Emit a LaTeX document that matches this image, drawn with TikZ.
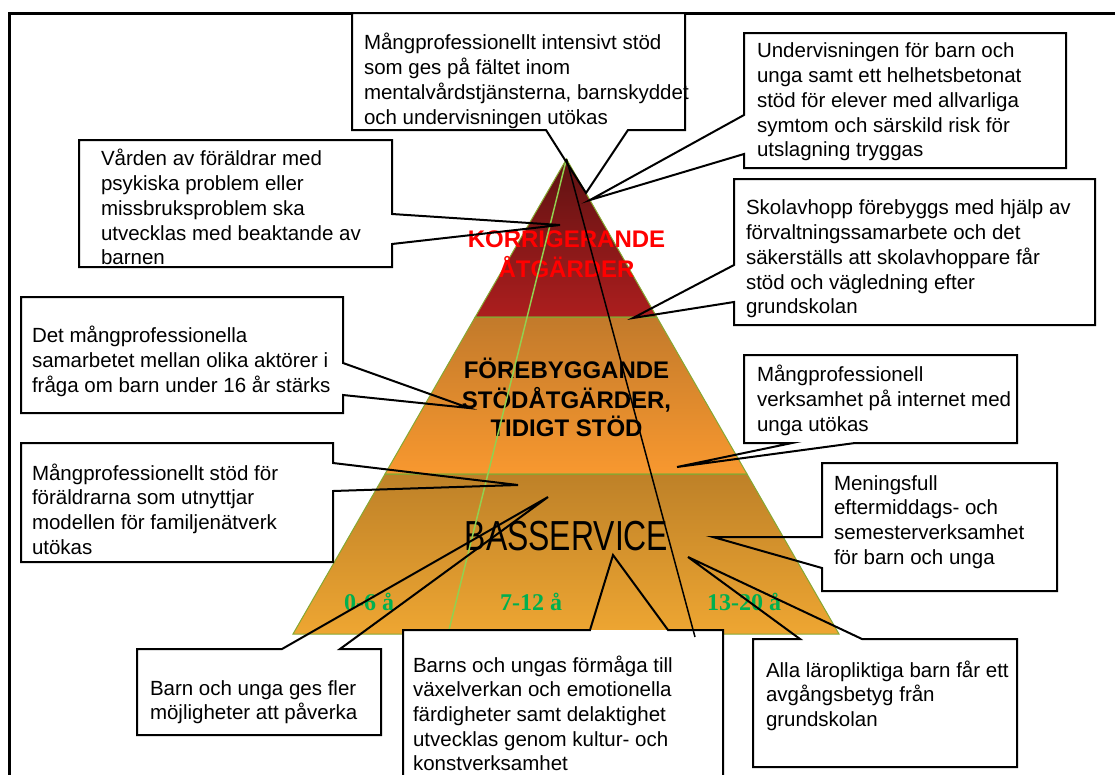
\documentclass[tikz,border=0pt]{standalone}
\usepackage{fontspec}
\setmainfont{Liberation Sans}
\newfontfamily\agefont{Liberation Serif}
\definecolor{redtop}{HTML}{5E1212}
\definecolor{redbot}{HTML}{AC1E1E}
\definecolor{midtop}{HTML}{C27A2B}
\definecolor{midbot}{HTML}{F8982F}
\definecolor{bottop}{HTML}{BE8128}
\definecolor{botbot}{HTML}{EEA632}
\definecolor{bandedge}{HTML}{86A832}
\definecolor{lgreen}{HTML}{92D050}
\definecolor{agegreen}{HTML}{00B050}
\definecolor{kred}{HTML}{FF0000}
\begin{document}
\begin{tikzpicture}[x=1pt,y=-1pt,
  cbox/.style={fill=white, draw=none, inner sep=0pt, outer sep=0pt, anchor=north west},
  cl/.style={draw=black, line width=2pt},
  btxt/.style={anchor=north west, inner sep=0pt, outer sep=0pt, align=left, font=\fontsize{20.5}{24.7}\selectfont},
  bandline/.style={draw=bandedge, line width=1pt},
  lvl/.style={anchor=north, inner sep=0pt, align=center, font=\bfseries\fontsize{24}{28}\selectfont},
  age/.style={anchor=base, inner sep=0pt, text=agegreen, font=\agefont\bfseries\fontsize{24}{24}\selectfont}]
\useasboundingbox (0,0) rectangle (1115,774);
\fill[white] (0,0) rectangle (1115,774);
% frame
\draw[line width=3pt] (9.5,800) -- (9.5,13) -- (1130,13);
% pyramid
\coordinate (apex) at (566.5,159);
\coordinate (l1) at (475.2,317); \coordinate (r1) at (656.8,317);
\coordinate (l2) at (385,474); \coordinate (r2) at (747,474);
\coordinate (l3) at (293,634); \coordinate (r3) at (839,634);
\shade[top color=redtop, bottom color=redbot] (apex) -- (r1) -- (l1) -- cycle;
\shade[top color=midtop, bottom color=midbot] (l1) -- (r1) -- (r2) -- (l2) -- cycle;
\shade[top color=bottop, bottom color=botbot] (l2) -- (r2) -- (r3) -- (l3) -- cycle;
\draw[bandline] (apex) -- (r1) -- (l1) -- cycle;
\draw[bandline] (l1) -- (r1) -- (r2) -- (l2) -- cycle;
\draw[bandline] (l2) -- (r2) -- (r3) -- (l3) -- cycle;
% level labels
\node[lvl, text=kred] (korr) at (566.5,227.4) {\strut KORRIGERANDE\\ÅTGÄRDER};
\node[lvl] (fore) at (566.5,357.4) {\strut FÖREBYGGANDE\\STÖDÅTGÄRDER,\\TIDIGT STÖD};
\node[anchor=base, inner sep=0pt] (bas) at (566.5,550) {\scalebox{0.76}[1]{\fontsize{42}{42}\selectfont BASSERVICE}};
\node[age] (a1) at (369,610) {0-6 å};
\node[age] (a2) at (531,610) {7-12 å};
\node[age] (a3) at (744,610) {13-20 å};
% green line
\coordinate (gend) at (448,634);
\draw[lgreen, line width=1.5pt] (apex) -- (gend);
% box fills
\node[cbox, minimum width=333pt, minimum height=117pt] (bA) at (352,13) {};
\node[cbox, minimum width=322pt, minimum height=135pt] (bB) at (744,33) {};
\node[cbox, minimum width=313pt, minimum height=127pt] (bV) at (79,140) {};
\node[cbox, minimum width=361pt, minimum height=146pt] (bS) at (734,179) {};
\node[cbox, minimum width=322pt, minimum height=116pt] (bD) at (21,297) {};
\node[cbox, minimum width=273pt, minimum height=88pt] (bM) at (744,355) {};
\node[cbox, minimum width=312pt, minimum height=119pt] (bP) at (21,443) {};
\node[cbox, minimum width=235pt, minimum height=128pt] (bF) at (822,463) {};
\node[cbox, minimum width=264pt, minimum height=128pt] (bL) at (753,639) {};
\node[cbox, minimum width=320pt, minimum height=170pt] (bC) at (403,630) {};
\node[cbox, minimum width=244pt, minimum height=86pt] (bU) at (137,649) {};
% wedge points
\coordinate (wA1) at (628,130); \coordinate (tA) at (586,193); \coordinate (wA2) at (546,130);
\coordinate (wB1) at (744,154); \coordinate (tB) at (590,200); \coordinate (wB2) at (744,115);
\coordinate (wV1) at (392,214); \coordinate (tV) at (560,225); \coordinate (wV2) at (392,244);
\coordinate (wS1) at (734,302); \coordinate (tS) at (633,318); \coordinate (wS2) at (734,265);
\coordinate (wD1) at (343,363); \coordinate (tD) at (469,408); \coordinate (wD2) at (343,395);
\coordinate (wM1) at (855,443); \coordinate (tM) at (677,467); \coordinate (wM2) at (792,443);
\coordinate (wP1) at (333,463); \coordinate (tP) at (518,485); \coordinate (wP2) at (333,491);
\coordinate (wF1) at (822,568); \coordinate (tF) at (713,537); \coordinate (wF2) at (822,537);
\coordinate (wL1) at (800,639); \coordinate (tL) at (688,557); \coordinate (wL2) at (862,639);
\coordinate (wC1) at (590,630); \coordinate (tC) at (613,555); \coordinate (wC2) at (668,630);
\coordinate (wU1) at (282,649); \coordinate (tU) at (548,497); \coordinate (wU2) at (340,649);
% callout outlines
\draw[cl] (bA.north west) -- (bA.north east) -- (bA.south east) -- (wA1) -- (tA) -- (wA2) -- (bA.south west) -- cycle;
\draw[cl] (bB.north west) -- (bB.north east) -- (bB.south east) -- (bB.south west) -- (wB1) -- (tB) -- (wB2) -- cycle;
\draw[cl] (bV.north west) -- (bV.north east) -- (wV1) -- (tV) -- (wV2) -- (bV.south east) -- (bV.south west) -- cycle;
\draw[cl] (bS.north west) -- (bS.north east) -- (bS.south east) -- (bS.south west) -- (wS1) -- (tS) -- (wS2) -- cycle;
\draw[cl] (bD.north west) -- (bD.north east) -- (wD1) -- (tD) -- (wD2) -- (bD.south east) -- (bD.south west) -- cycle;
\draw[cl] (bM.north west) -- (bM.north east) -- (bM.south east) -- (wM1) -- (tM) -- (wM2) -- (bM.south west) -- cycle;
\draw[cl] (bP.north west) -- (bP.north east) -- (wP1) -- (tP) -- (wP2) -- (bP.south east) -- (bP.south west) -- cycle;
\draw[cl] (bF.north west) -- (bF.north east) -- (bF.south east) -- (bF.south west) -- (wF1) -- (tF) -- (wF2) -- cycle;
\draw[cl] (bL.north west) -- (wL1) -- (tL) -- (wL2) -- (bL.north east) -- (bL.south east) -- (bL.south west) -- cycle;
\draw[cl] (bC.north west) -- (wC1) -- (tC) -- (wC2) -- (bC.north east) -- (bC.south east) -- (bC.south west) -- cycle;
\draw[cl] (bU.north west) -- (wU1) -- (tU) -- (wU2) -- (bU.north east) -- (bU.south east) -- (bU.south west) -- cycle;
% long line
\coordinate (lend) at (695,637);
\draw[line width=1.5pt] (apex) -- (lend);
% box texts
\node[btxt] (xA) at (364,32.7) {\strut Mångprofessionellt intensivt stöd\\som ges på fältet inom\\mentalvårdstjänsterna, barnskyddet\\och undervisningen utökas};
\node[btxt] (xB) at (757,40.7) {\strut Undervisningen för barn och\\unga samt ett helhetsbetonat\\stöd för elever med allvarliga\\symtom och särskild risk för\\utslagning tryggas};
\node[btxt] (xV) at (101,148.7) {\strut Vården av föräldrar med\\psykiska problem eller\\missbruksproblem ska\\utvecklas med beaktande av\\barnen};
\node[btxt] (xS) at (746,197.7) {\strut Skolavhopp förebyggs med hjälp av\\förvaltningssamarbete och det\\säkerställs att skolavhoppare får\\stöd och vägledning efter\\grundskolan};
\node[btxt] (xD) at (32,325.7) {\strut Det mångprofessionella\\samarbetet mellan olika aktörer i\\fråga om barn under 16 år stärks};
\node[btxt] (xM) at (757,364.7) {\strut Mångprofessionell\\verksamhet på internet med\\unga utökas};
\node[btxt] (xP) at (32,462.7) {\strut Mångprofessionellt stöd för\\föräldrarna som utnyttjar\\modellen för familjenätverk\\utökas};
\node[btxt] (xF) at (834,472.7) {\strut Meningsfull\\eftermiddags- och\\semesterverksamhet\\för barn och unga};
\node[btxt] (xL) at (766,659.7) {\strut Alla läropliktiga barn får ett\\avgångsbetyg från\\grundskolan};
\node[btxt] (xC) at (413,654.7) {\strut Barns och ungas förmåga till\\växelverkan och emotionella\\färdigheter samt delaktighet\\utvecklas genom kultur- och\\konstverksamhet};
\node[btxt] (xU) at (150,677.7) {\strut Barn och unga ges fler\\möjligheter att påverka};
\end{tikzpicture}
\end{document}
